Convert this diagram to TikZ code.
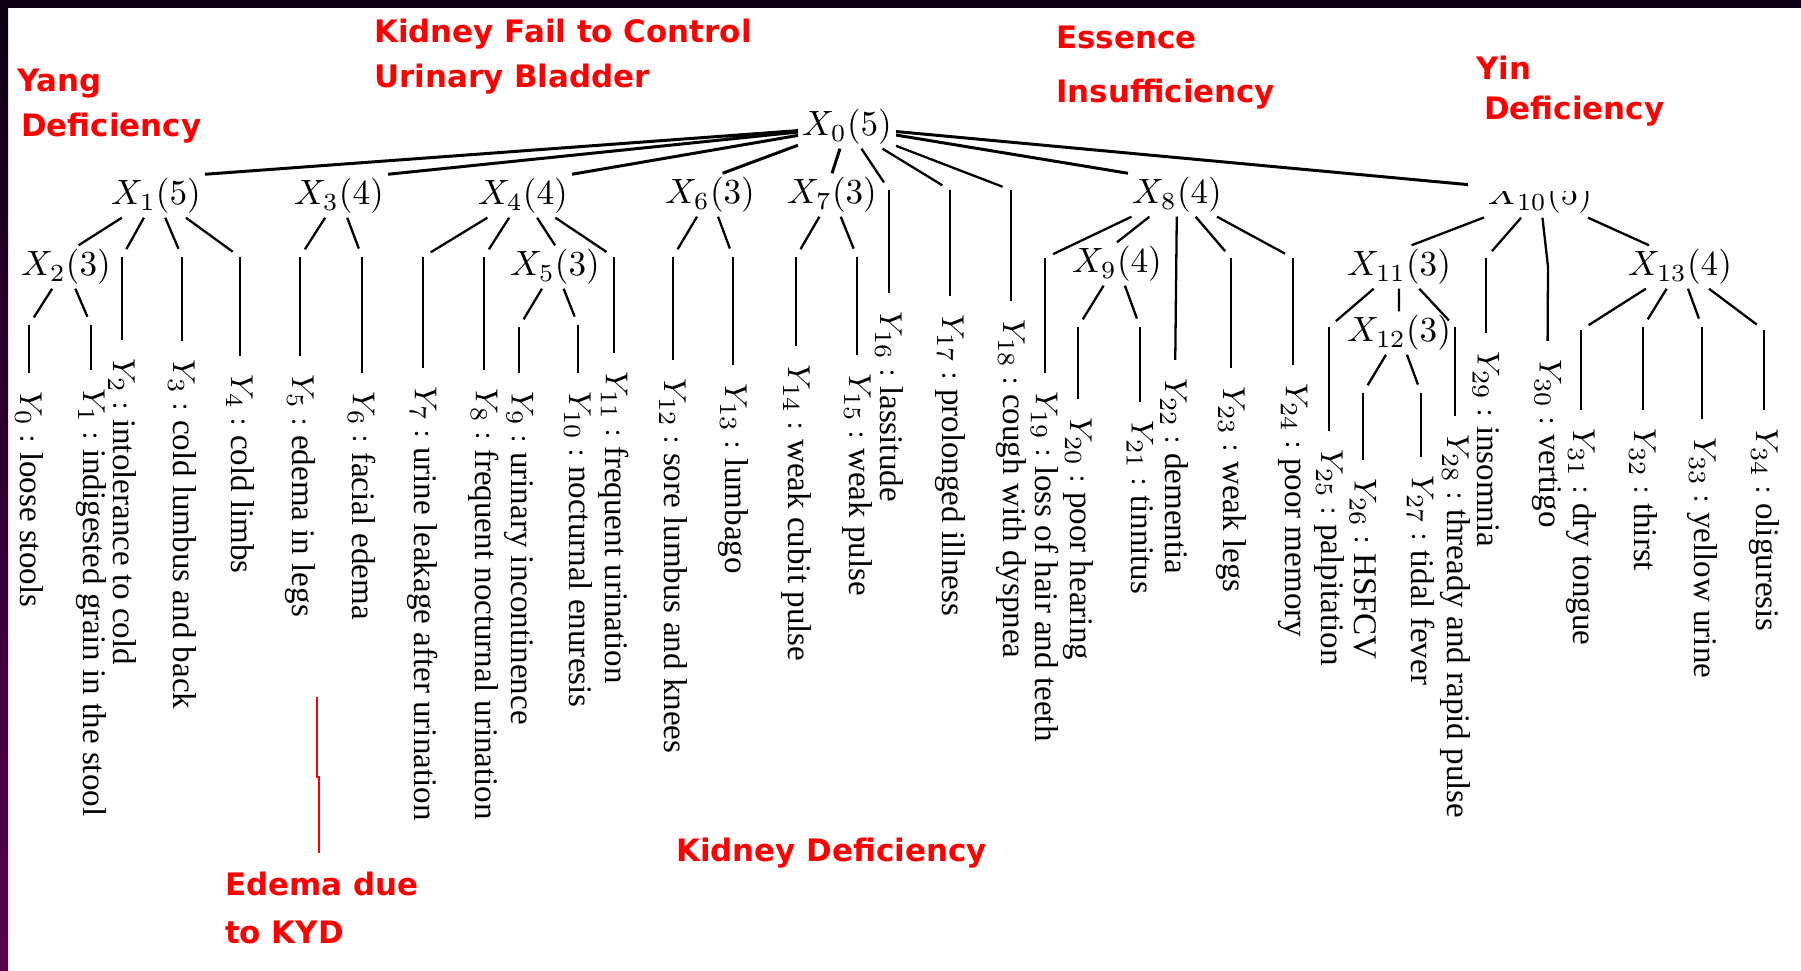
\documentclass[tikz,border=0pt]{standalone}
\usepackage[no-math]{fontspec}
\setmainfont{Liberation Serif}
\newfontfamily\notefont{DejaVu Sans}
\usepackage{xcolor}
\usepackage{tikz}
\definecolor{bartop}{HTML}{0C0012}
\definecolor{barbot}{HTML}{560050}
\tikzset{
xn/.style={inner sep=0.03cm,font=\fontsize{9.8}{12}\selectfont},
yn/.style={rotate=-90,anchor=west,inner sep=0pt,font=\fontsize{9.4}{11}\selectfont},
twig/.style={shorten >=0.09cm},
stalk/.style={shorten >=0.17cm},
note/.style={anchor=base west,inner sep=0pt,text=red,font=\notefont\bfseries\fontsize{8.8}{10}\selectfont}
}

\begin{document}
\begin{tikzpicture}[x=0.01cm,y=-0.01cm,line width=0.65pt]
\useasboundingbox(0,0)rectangle(1801,971);
\fill[white](0,0)rectangle(1801,971);
\fill[bartop](0,0)rectangle(1801,8);
\shade[top color=bartop,bottom color=barbot](0,0)rectangle(8,971);

\node[xn](x0)at(847,127){$X_{0}(5)$};
\node[xn](x1)at(156,196){$X_{1}(5)$};
\node[xn](x2)at(66,267){$X_{2}(3)$};
\node[xn](x3)at(339,196){$X_{3}(4)$};
\node[xn](x4)at(523,196){$X_{4}(4)$};
\node[xn](x5)at(555,267){$X_{5}(3)$};
\node[xn](x6)at(710,195){$X_{6}(3)$};
\node[xn](x7)at(832,195){$X_{7}(3)$};
\node[xn](x8)at(1177,195){$X_{8}(4)$};
\node[xn](x9)at(1117,264){$X_{9}(4)$};
\node[xn](x10)at(1540,196){$X_{10}(5)$};
\node[xn](x11)at(1399,267){$X_{11}(3)$};
\node[xn](x12)at(1399,333){$X_{12}(3)$};
\node[xn](x13)at(1680,267){$X_{13}(4)$};

\draw[line width=0.85pt](x0)--(x1.north east) (x0)--(x3.north east) (x0)--(x4.north east)
(x0)--(x6.60) (x0)--(x7.north) (x0)--(x8.north west) (x0)--(x10.170);
\draw(x1)--(x2.60) (x4)--(x5.north) (x8)--(x9.north) (x10)--(x11.60) (x10)--(x13.145) (x11)--(x12);

\coordinate(s0)at(29,325);
\coordinate(s1)at(91,325);
\coordinate(s2)at(122,257);
\coordinate(s3)at(182,257);
\coordinate(s4)at(240,257);
\coordinate(s5)at(300,257);
\coordinate(s6)at(362,257);
\coordinate(s7)at(423,257);
\coordinate(s8)at(484,257);
\coordinate(s9)at(519,327);
\coordinate(s10)at(578,325);
\coordinate(s11)at(614,257);
\coordinate(s12)at(673,257);
\coordinate(s13)at(733,257);
\coordinate(s14)at(796,257);
\coordinate(s15)at(857,257);
\coordinate(s16)at(889,190);
\coordinate(s17)at(950,190);
\coordinate(s18)at(1011,190);
\coordinate(s19)at(1045,258);
\coordinate(s20)at(1078,327);
\coordinate(s21)at(1140,327);
\coordinate(s23)at(1231,258);
\coordinate(s24)at(1293,258);
\coordinate(s25)at(1329,327);
\coordinate(s26)at(1363,393);
\coordinate(s27)at(1421,393);
\coordinate(s28)at(1455,327);
\coordinate(s29)at(1486,258);
\coordinate(s30)at(1548,267);
\coordinate(s31)at(1581,330);
\coordinate(s32)at(1643,327);
\coordinate(s33)at(1702,327);
\coordinate(s34)at(1764,330);

\node[yn](y0)at(29,390){$Y_{0}:$ loose stools};
\node[yn](y1)at(91,387){$Y_{1}:$ indigested grain in the stool};
\node[yn](y2)at(122,357){$Y_{2}:$ intolerance to cold};
\node[yn](y3)at(182,358){$Y_{3}:$ cold lumbus and back};
\node[yn](y4)at(240,373){$Y_{4}:$ cold limbs};
\node[yn](y5)at(300,373){$Y_{5}:$ edema in legs};
\node[yn](y6)at(362,390){$Y_{6}:$ facial edema};
\node[yn](y7)at(423,385){$Y_{7}:$ urine leakage after urination};
\node[yn](y8)at(484,387){$Y_{8}:$ frequent nocturnal urination};
\node[yn](y9)at(519,390){$Y_{9}:$ urinary incontinence};
\node[yn](y10)at(578,390){$Y_{10}:$ nocturnal enuresis};
\node[yn](y11)at(614,370){$Y_{11}:$ frequent urination};
\node[yn](y12)at(673,377){$Y_{12}:$ sore lumbus and knees};
\node[yn](y13)at(733,382){$Y_{13}:$ lumbago};
\node[yn](y14)at(796,363){$Y_{14}:$ weak cubit pulse};
\node[yn](y15)at(857,372){$Y_{15}:$ weak pulse};
\node[yn](y16)at(889,310){$Y_{16}:$ lassitude};
\node[yn](y17)at(950,313){$Y_{17}:$ prolonged illness};
\node[yn](y18)at(1011,318){$Y_{18}:$ cough with dyspnea};
\node[yn](y19)at(1045,390){$Y_{19}:$ loss of hair and teeth};
\node[yn](y20)at(1078,416){$Y_{20}:$ poor hearing};
\node[yn](y21)at(1140,419){$Y_{21}:$ tinnitus};
\node[yn](y22)at(1174,377){$Y_{22}:$ dementia};
\node[yn](y23)at(1231,385){$Y_{23}:$ weak legs};
\node[yn](y24)at(1293,382){$Y_{24}:$ poor memory};
\node[yn](y25)at(1329,448){$Y_{25}:$ palpitation};
\node[yn](y26)at(1363,477){$Y_{26}:$ HSFCV};
\node[yn](y27)at(1421,474){$Y_{27}:$ tidal fever};
\node[yn](y28)at(1455,433){$Y_{28}:$ thready and rapid pulse};
\node[yn](y29)at(1486,350){$Y_{29}:$ insomnia};
\node[yn](y30)at(1547,358){$Y_{30}:$ vertigo};
\node[yn](y31)at(1581,427){$Y_{31}:$ dry tongue};
\node[yn](y32)at(1643,427){$Y_{32}:$ thirst};
\node[yn](y33)at(1702,436){$Y_{33}:$ yellow urine};
\node[yn](y34)at(1764,427){$Y_{34}:$ oliguresis};

\draw[twig](x2)--(s0);
\draw[twig](x2)--(s1);
\draw[twig](x1)--(s2);
\draw[twig](x1)--(s3);
\draw[twig](x1)--(s4);
\draw[twig](x3)--(s5);
\draw[twig](x3)--(s6);
\draw[twig](x4)--(s7);
\draw[twig](x4)--(s8);
\draw[twig](x5)--(s9);
\draw[twig](x5)--(s10);
\draw[twig](x4)--(s11);
\draw[twig](x6)--(s12);
\draw[twig](x6)--(s13);
\draw[twig](x7)--(s14);
\draw[twig](x7)--(s15);
\draw[twig](x0)--(s16);
\draw[twig](x0)--(s17);
\draw[twig](x0)--(s18);
\draw[twig](x8)--(s19);
\draw[twig](x9)--(s20);
\draw[twig](x9)--(s21);
\draw[twig](x8)--(s23);
\draw[twig](x8)--(s24);
\draw[twig](x11)--(s25);
\draw[twig](x12)--(s26);
\draw[twig](x12)--(s27);
\draw[twig](x11)--(s28);
\draw[twig](x10)--(s29);
\draw(x10)--(s30);
\draw[twig](x13)--(s31);
\draw[twig](x13)--(s32);
\draw[twig](x13)--(s33);
\draw[twig](x13)--(s34);

\draw[stalk](s0)--(y0);
\draw[stalk](s1)--(y1);
\draw[stalk](s2)--(y2);
\draw[stalk](s3)--(y3);
\draw[stalk](s4)--(y4);
\draw[stalk](s5)--(y5);
\draw[stalk](s6)--(y6);
\draw[stalk](s7)--(y7);
\draw[stalk](s8)--(y8);
\draw[stalk](s9)--(y9);
\draw[stalk](s10)--(y10);
\draw[stalk](s11)--(y11);
\draw[stalk](s12)--(y12);
\draw[stalk](s13)--(y13);
\draw[stalk](s14)--(y14);
\draw[stalk](s15)--(y15);
\draw[stalk](s16)--(y16);
\draw[stalk](s17)--(y17);
\draw[stalk](s18)--(y18);
\draw[stalk](s19)--(y19);
\draw[stalk](s20)--(y20);
\draw[stalk](s21)--(y21);
\draw[stalk](x8)--(y22);
\draw[stalk](s23)--(y23);
\draw[stalk](s24)--(y24);
\draw[stalk](s25)--(y25);
\draw[stalk](s26)--(y26);
\draw[stalk](s27)--(y27);
\draw[stalk](s28)--(y28);
\draw[stalk](s29)--(y29);
\draw[stalk](s30)--(y30);
\draw[stalk](s31)--(y31);
\draw[stalk](s32)--(y32);
\draw[stalk](s33)--(y33);
\draw[stalk](s34)--(y34);

\fill[white](1468,40)rectangle(1700,191);

\node[note](yang)at(16,92){Yang};
\node[note](yangb)at(20,137){Deficiency};
\node[note](kfc)at(373,43){Kidney Fail to Control};
\node[note](kfcb)at(373,88){Urinary Bladder};
\node[note](ess)at(1055,49){Essence};
\node[note](essb)at(1055,103){Insufficiency};
\node[note](yin)at(1475,80){Yin};
\node[note](yinb)at(1483,120){Deficiency};
\node[note](kd)at(675,862){Kidney Deficiency};
\node[note](edema)at(224,896){Edema due};
\node[note](edemab)at(224,943){to KYD};

\coordinate(r1)at(317,697);
\coordinate(r2)at(319,853);
\draw[red,line width=0.5pt](r1)--(317,777)-|(r2);
\end{tikzpicture}
\end{document}
